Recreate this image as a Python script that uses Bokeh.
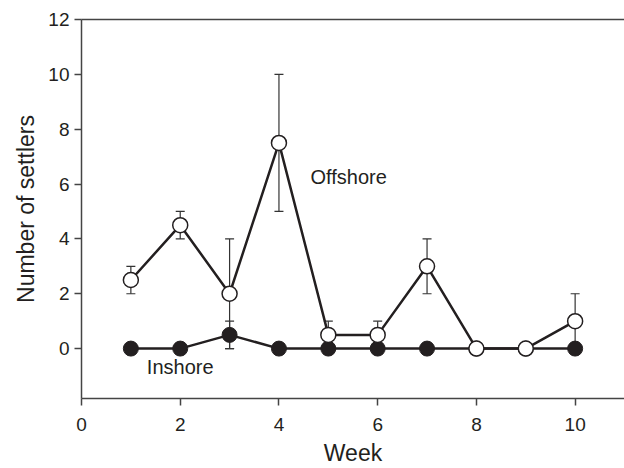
from bokeh.plotting import figure
from bokeh.models import ColumnDataSource, Whisker, LinearAxis, FixedTicker, Range1d, Label
from bokeh.embed import file_html
from bokeh.resources import INLINE

weeks = [1, 2, 3, 4, 5, 6, 7, 8, 9, 10]
offshore = [2.5, 4.5, 2.0, 7.5, 0.5, 0.5, 3.0, 0.0, 0.0, 1.0]
offshore_lo = [2.0, 4.0, 0.0, 5.0, 0.0, 0.0, 2.0, 0.0, 0.0, 0.0]
offshore_hi = [3.0, 5.0, 4.0, 10.0, 1.0, 1.0, 4.0, 0.0, 0.0, 2.0]
inshore = [0, 0, 0.5, 0, 0, 0, 0, 0, 0, 0]
inshore_lo = [0, 0, 0.0, 0, 0, 0, 0, 0, 0, 0]
inshore_hi = [0, 0, 1.0, 0, 0, 0, 0, 0, 0, 0]
x_ticks = [0, 2, 4, 6, 8, 10]
y_ticks = [0, 2, 4, 6, 8, 10, 12]

FONT = "Liberation Sans"
INK = "#231f20"

p = figure(width=624, height=468, output_backend="svg", toolbar_location=None,
           x_range=Range1d(0, 11), y_range=Range1d(-1.82, 12),
           min_border_left=81, min_border_right=0, min_border_top=19, min_border_bottom=69)
p.grid.visible = False
p.outline_line_color = None
p.background_fill_color = "white"
p.border_fill_color = "white"

for ax in (p.xaxis[0], p.yaxis[0]):
    ax.axis_line_color = "#444444"
    ax.axis_line_width = 1.5
    ax.major_tick_line_color = "#444444"
    ax.major_tick_line_width = 1.5
    ax.major_tick_in = 0
    ax.major_tick_out = 7
    ax.minor_tick_line_color = None
    ax.major_label_text_font = FONT
    ax.major_label_text_font_size = "19px"
    ax.major_label_text_color = INK
    ax.axis_label_text_font = FONT
    ax.axis_label_text_font_size = "23px"
    ax.axis_label_text_font_style = "normal"
    ax.axis_label_text_color = INK

p.xaxis.ticker = FixedTicker(ticks=x_ticks)
p.yaxis.ticker = FixedTicker(ticks=y_ticks)
p.xaxis.axis_label = "Week"
p.yaxis.axis_label = "Number of settlers"
p.xaxis.major_label_standoff = 12
p.yaxis.major_label_standoff = 5
p.xaxis.axis_label_standoff = 6
p.yaxis.axis_label_standoff = 6

top = LinearAxis(axis_line_color="#444444", axis_line_width=1.5,
                 major_tick_line_color=None, minor_tick_line_color=None,
                 major_label_text_font_size="0px", major_label_text_color=None)
p.add_layout(top, "above")

src_off = ColumnDataSource(dict(x=weeks, y=offshore, lo=offshore_lo, hi=offshore_hi))
src_in = ColumnDataSource(dict(x=weeks, y=inshore, lo=inshore_lo, hi=inshore_hi))

for src in (src_off, src_in):
    w = Whisker(source=src, base="x", lower="lo", upper="hi",
                line_color="#333333", line_width=1.2)
    w.upper_head.size = 9
    w.lower_head.size = 9
    w.upper_head.line_color = "#333333"
    w.lower_head.line_color = "#333333"
    w.upper_head.line_width = 1.2
    w.lower_head.line_width = 1.2
    p.add_layout(w)

p.line("x", "y", source=src_in, line_color=INK, line_width=2.5)
p.line("x", "y", source=src_off, line_color=INK, line_width=2.5)
p.scatter("x", "y", source=src_in, size=15, fill_color=INK, line_color=INK, line_width=1)
p.scatter("x", "y", source=src_off, size=15, fill_color="white", line_color=INK, line_width=1.5)

p.add_layout(Label(x=4.64, y=6.25, text="Offshore", text_font=FONT, text_font_size="20px",
                   text_color=INK, text_baseline="middle", text_align="left"))
p.add_layout(Label(x=2.0, y=-0.67, text="Inshore", text_font=FONT, text_font_size="20px",
                   text_color=INK, text_baseline="middle", text_align="center"))

open("out.html", "w").write(file_html(p, INLINE))
